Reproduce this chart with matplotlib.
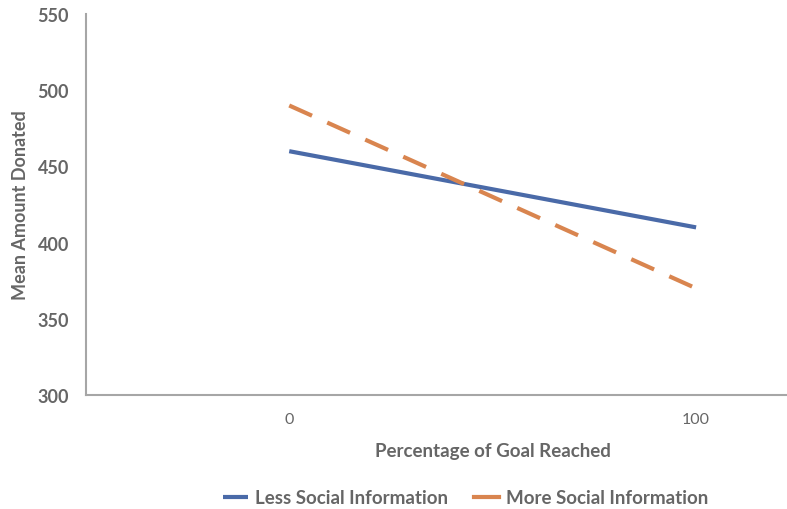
import matplotlib

matplotlib.use("Agg")
import matplotlib.pyplot as plt

goal_labels = ["0", "100"]
less_social = [460, 410]
more_social = [490, 370]
y_ticks = [300, 350, 400, 450, 500, 550]

plt.rcParams["font.family"] = ["Lato", "DejaVu Sans"]
text_color = "#666666"

fig = plt.figure(figsize=(7.87, 5.10), dpi=100)
# the plot area runs past the right edge of the picture, as in the original crop
ax = fig.add_axes([0.109, 0.2235, 1.034, 0.747])

xs = list(range(len(goal_labels)))
ax.plot(xs, less_social, color="#4a6aa8", linewidth=3.0, solid_capstyle="butt",
        label="Less Social Information")
ax.plot(xs, more_social, color="#d9854f", linewidth=3.0, dashes=(6, 4),
        dash_capstyle="butt", label="More Social Information")

ax.set_xlim(-0.5, 1.5)
ax.set_ylim(300, 550)
ax.set_yticks(y_ticks)
ax.set_xticks(xs)
ax.set_xticklabels(goal_labels)

for side in ("top", "right"):
    ax.spines[side].set_visible(False)
for side in ("left", "bottom"):
    ax.spines[side].set_color("#a6a6a6")
    ax.spines[side].set_linewidth(1.5)

ax.tick_params(axis="y", length=0, pad=12, labelsize=13, labelcolor=text_color)
ax.tick_params(axis="x", length=0, pad=12, labelsize=11.5, labelcolor=text_color)
for lbl in ax.get_yticklabels():
    lbl.set_fontweight("bold")

ax.set_xlabel("Percentage of Goal Reached", fontsize=13.5, fontweight="bold",
              color=text_color, labelpad=12)
ax.set_ylabel("Mean Amount Donated", fontsize=13, fontweight="bold",
              color=text_color, labelpad=6)

leg = fig.legend(loc="center", bbox_to_anchor=(0.592, 0.022), ncol=2, frameon=False,
                 handlelength=1.3, columnspacing=1.4, handletextpad=0.4,
                 prop={"size": 13.5, "weight": "bold"})
for t in leg.get_texts():
    t.set_color(text_color)
for h in leg.get_lines():
    h.set_linestyle("-")
    h.set_linewidth(3.0)

fig.savefig("out.png", dpi=100)
